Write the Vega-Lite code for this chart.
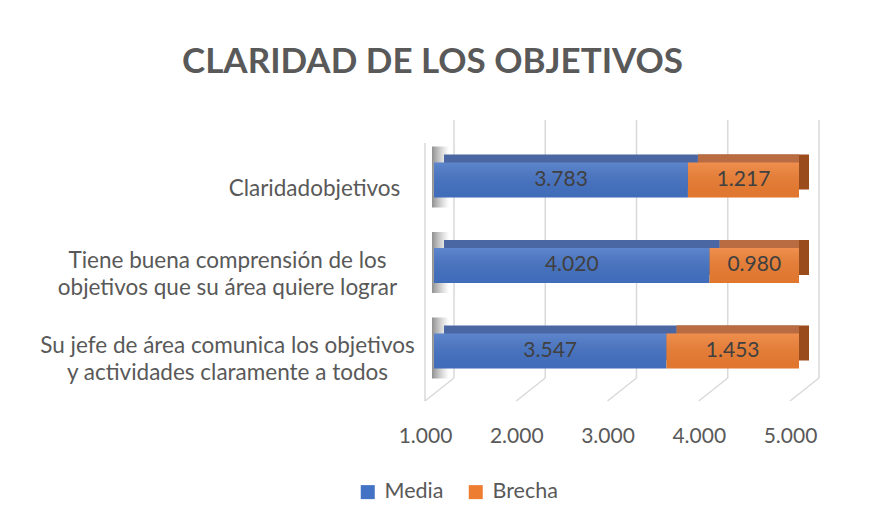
{
  "$schema": "https://vega.github.io/schema/vega-lite/v6.json",
  "width": 365,
  "height": 280,
  "autosize": {"type": "none"},
  "padding": {"left": 434, "top": 120, "right": 76, "bottom": 121},
  "background": "white",
  "title": {
    "text": "CLARIDAD DE LOS OBJETIVOS",
    "font": "Lato",
    "fontSize": 35,
    "fontWeight": "bold",
    "color": "#595959",
    "anchor": "middle",
    "frame": "group",
    "baseline": "alphabetic",
    "dx": -184,
    "offset": 11
  },
  "config": {
    "view": {"stroke": null},
    "font": "Lato",
    "axisX": {
      "domain": false, "ticks": false, "grid": false,
      "labelFont": "Lato", "labelFontSize": 21, "labelColor": "#595959",
      "labelPadding": 25, "labelOffset": -9, "labelFlush": false, "labelOverlap": false
    },
    "axisY": {
      "domain": false, "ticks": false, "grid": false,
      "labelFont": "Lato", "labelFontSize": 22.5, "labelColor": "#595959",
      "labelLineHeight": 27, "labelLimit": 600, "labelAlign": "center"
    }
  },
  "layer": [
    {
      "data": {"values": [{"v": 1}, {"v": 2}, {"v": 3}, {"v": 4}, {"v": 5}]},
      "layer": [
        {
          "mark": {"type": "rule", "color": "#d9d9d9", "strokeWidth": 1.5, "xOffset": 20, "y": {"expr": "0"}, "y2": {"expr": "height - 22"}},
          "encoding": {
            "x": {"field": "v", "type": "quantitative", "title": null,
                  "scale": {"domain": [1, 5], "clamp": true, "zero": false, "nice": false},
                  "axis": {"values": [1, 2, 3, 4, 5], "format": ".3f"}}
          }
        },
        {
          "mark": {"type": "rule", "color": "#d9d9d9", "strokeWidth": 1.5, "xOffset": 20, "x2Offset": -9},
          "encoding": {
            "x": {"field": "v", "type": "quantitative", "title": null},
            "x2": {"field": "v"},
            "y": {"value": {"expr": "height - 22"}},
            "y2": {"value": {"expr": "height + 1"}}
          }
        },
        {
          "transform": [{"filter": "datum.v == 1"}],
          "mark": {"type": "rule", "color": "#d9d9d9", "strokeWidth": 1.5, "xOffset": -9, "y": {"expr": "23"}, "y2": {"expr": "height + 1"}},
          "encoding": {
            "x": {"field": "v", "type": "quantitative", "title": null}
          }
        }
      ]
    },
    {
      "data": {
        "values": [
          {"pregunta": "Claridadobjetivos", "serie": "Media", "valor": 3.783},
          {"pregunta": "Claridadobjetivos", "serie": "Brecha", "valor": 1.217},
          {"pregunta": "Tiene buena comprensión de los objetivos que su área quiere lograr", "serie": "Media", "valor": 4.020},
          {"pregunta": "Tiene buena comprensión de los objetivos que su área quiere lograr", "serie": "Brecha", "valor": 0.980},
          {"pregunta": "Su jefe de área comunica los objetivos y actividades claramente a todos", "serie": "Media", "valor": 3.547},
          {"pregunta": "Su jefe de área comunica los objetivos y actividades claramente a todos", "serie": "Brecha", "valor": 1.453}
        ]
      },
      "transform": [
        {"stack": "valor", "groupby": ["pregunta"], "sort": [{"field": "serie", "order": "descending"}], "as": ["ini", "fin"]},
        {"calculate": "(max(datum.ini, 1) + datum.fin) / 2", "as": "medio"}
      ],
      "layer": [
        {
          "transform": [{"filter": "datum.serie == 'Media'"}],
          "mark": {"type": "bar", "height": {"band": 1.75}, "yOffset": -3, "xOffset": -2, "x2Offset": 15,
                   "fill": {"gradient": "linear", "x1": 0, "y1": 0, "x2": 1, "y2": 0,
                            "stops": [{"offset": 0, "color": "rgba(70,70,70,0.6)"}, {"offset": 1, "color": "rgba(120,120,120,0)"}]}},
          "encoding": {
            "y": {"field": "pregunta", "type": "nominal", "sort": null, "title": null},
            "x": {"datum": 1, "type": "quantitative", "title": null},
            "x2": {"datum": 1}
          }
        },
        {
          "transform": [{"filter": "datum.serie == 'Brecha'"}],
          "mark": {"type": "bar", "color": "#9b4c1d", "xOffset": 10, "x2Offset": 10, "yOffset": -8},
          "encoding": {
            "y": {"field": "pregunta", "type": "nominal", "sort": null, "title": null},
            "x": {"field": "ini", "type": "quantitative", "title": null},
            "x2": {"field": "fin"}
          }
        },
        {
          "transform": [{"filter": "datum.serie == 'Brecha'"}],
          "mark": {"type": "bar", "color": "#b96b42", "xOffset": 10, "x2Offset": 0, "yOffset": -8},
          "encoding": {
            "y": {"field": "pregunta", "type": "nominal", "sort": null, "title": null},
            "x": {"field": "ini", "type": "quantitative", "title": null},
            "x2": {"field": "fin"}
          }
        },
        {
          "transform": [{"filter": "datum.serie == 'Media'"}],
          "mark": {"type": "bar", "color": "#4a66a3", "xOffset": 10, "x2Offset": 10, "yOffset": -8},
          "encoding": {
            "y": {"field": "pregunta", "type": "nominal", "sort": null, "title": null},
            "x": {"field": "ini", "type": "quantitative", "title": null},
            "x2": {"field": "fin"}
          }
        },
        {
          "mark": {"type": "bar"},
          "encoding": {
            "y": {"field": "pregunta", "type": "nominal", "sort": null, "title": null,
                  "scale": {"paddingInner": 0.591, "paddingOuter": 0.433, "align": 0.574},
                  "axis": {
                    "labelExpr": "datum.label == 'Tiene buena comprensión de los objetivos que su área quiere lograr' ? ['Tiene buena comprensión de los', 'objetivos que su área quiere lograr'] : datum.label == 'Su jefe de área comunica los objetivos y actividades claramente a todos' ? ['Su jefe de área comunica los objetivos', 'y actividades claramente a todos'] : datum.label",
                    "labelOffset": {"condition": {"test": "datum.value == 'Claridadobjetivos'", "value": 9}, "value": -4.5},
                    "labelPadding": {"condition": {"test": "datum.value == 'Claridadobjetivos'", "value": 120}, "value": 207}
                  }},
            "x": {"field": "ini", "type": "quantitative", "title": null},
            "x2": {"field": "fin"},
            "color": {"field": "serie", "type": "nominal",
                      "scale": {"domain": ["Media", "Brecha"], "range": ["#4472C4", "#ED7D31"]},
                      "legend": {"orient": "none", "legendX": -77, "legendY": 361, "direction": "horizontal", "title": null,
                                 "symbolType": "square", "symbolSize": 196, "symbolStrokeWidth": 0,
                                 "labelFont": "Lato", "labelFontSize": 21.5, "labelColor": "#595959",
                                 "columnPadding": 21, "labelOffset": 6}}
          }
        },
        {
          "mark": {"type": "bar",
                   "fill": {"gradient": "linear", "x1": 0, "y1": 0, "x2": 0, "y2": 1,
                            "stops": [{"offset": 0, "color": "rgba(255,255,255,0.14)"}, {"offset": 1, "color": "rgba(0,0,0,0.05)"}]}},
          "encoding": {
            "y": {"field": "pregunta", "type": "nominal", "sort": null, "title": null},
            "x": {"field": "ini", "type": "quantitative", "title": null},
            "x2": {"field": "fin"}
          }
        },
        {
          "mark": {"type": "text", "font": "Lato", "fontSize": 21, "color": "#404040", "baseline": "middle"},
          "encoding": {
            "y": {"field": "pregunta", "type": "nominal", "sort": null, "title": null},
            "x": {"field": "medio", "type": "quantitative", "title": null},
            "text": {"field": "valor", "type": "quantitative", "format": ".3f"}
          }
        }
      ]
    }
  ]
}
